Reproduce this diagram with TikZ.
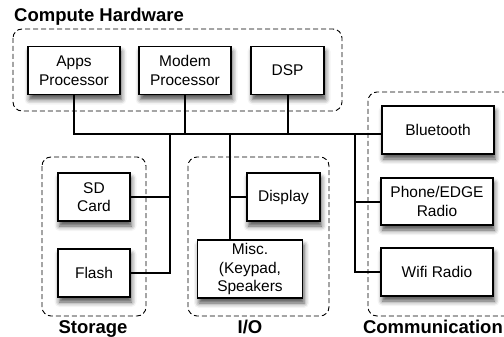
\documentclass[tikz,border=0pt]{standalone}
\usepackage{fontspec}
\setmainfont{Liberation Sans}
\usetikzlibrary{shadows.blur}

\begin{document}
\begin{tikzpicture}
[x=1pt,y=-1pt,%
  unitBox/.style={draw,line width=1.3pt,fill=white,align=center,inner sep=0pt,%
    font=\fontsize{15.5}{18.5}\selectfont,%
    blur shadow={shadow xshift=1.5pt,shadow yshift=-5pt,shadow blur radius=5pt,shadow opacity=70}},%
  groupBox/.style={line width=0.9pt,rounded corners=9pt,dash pattern=on 5pt off 3pt},%
  busLine/.style={line width=2pt},%
  groupLabel/.style={font=\bfseries\fontsize{18.5}{20}\selectfont,inner sep=0pt}]
\useasboundingbox (0,0) rectangle (504,337);

%% groups
\draw[groupBox] (13,29) rectangle (342,111);
\draw[groupBox] (42,157) rectangle (146,316);
\draw[groupBox] (188,157) rectangle (329,316);
\draw[groupBox] (368,92) rectangle (520,316);

\node[groupLabel,anchor=base west] (computeLbl) at (14,22) {Compute Hardware};
\node[groupLabel,anchor=base] (storageLbl) at (93,333) {Storage};
\node[groupLabel,anchor=base] (ioLbl) at (250,333) {I/O};
\node[groupLabel,anchor=base east] (commLbl) at (503,333) {Communication};

%% units
\node[unitBox,minimum width=92pt,minimum height=48pt] (apps) at (74,70.5) {Apps\\Processor};
\node[unitBox,minimum width=92pt,minimum height=48pt] (modem) at (185,70.5) {Modem\\Processor};
\node[unitBox,minimum width=73pt,minimum height=48pt] (dsp) at (287.5,70.5) {DSP};
\node[unitBox,minimum width=72pt,minimum height=48pt] (sd) at (94,197) {SD\\Card};
\node[unitBox,minimum width=72pt,minimum height=48pt] (flash) at (94,273) {Flash};
\node[unitBox,minimum width=73pt,minimum height=48pt] (display) at (283.5,197) {Display};
\node[unitBox,minimum width=105pt,minimum height=58pt] (misc) at (250,269) {Misc.\\(Keypad,\\Speakers};
\node[unitBox,minimum width=112pt,minimum height=48pt] (bt) at (438,130) {Bluetooth};
\node[unitBox,minimum width=112pt,minimum height=47pt] (phone) at (437,201.5) {Phone/EDGE\\Radio};
\node[unitBox,minimum width=112pt,minimum height=48pt] (wifi) at (437,272) {Wifi Radio};

%% the bus and its branches
\coordinate (busL) at (74,134);
\coordinate (storTap) at (170,134);
\coordinate (ioTap) at (230,134);
\coordinate (commTap) at (355,134);
\draw[busLine] (apps.south) -- (busL) -- (bt.west |- busL);
\draw[busLine] (modem.south) -- (modem.south |- busL);
\draw[busLine] (dsp.south) -- (dsp.south |- busL);
\draw[busLine] (storTap) |- (flash.east);
\draw[busLine] (sd.east) -- (sd.east -| storTap);
\draw[busLine] (ioTap) -- (ioTap |- misc.north);
\draw[busLine] (display.west) -- (display.west -| ioTap);
\draw[busLine] (commTap) |- (wifi.west);
\draw[busLine] (phone.west) -- (phone.west -| commTap);
\end{tikzpicture}
\end{document}
